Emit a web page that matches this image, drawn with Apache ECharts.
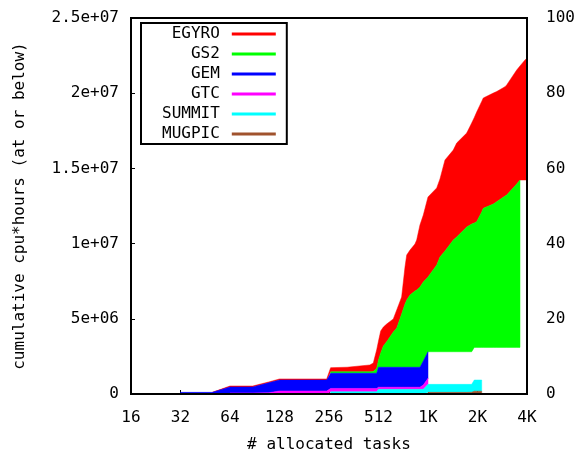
<!DOCTYPE html>
<html>
<head>
<meta charset="utf-8">
<script src="https://cdn.jsdelivr.net/npm/echarts@6/dist/echarts.min.js"></script>
<style>
html,body{margin:0;padding:0;background:#fff;}
#chart{width:581px;height:453px;}
</style>
</head>
<body>
<div id="chart"></div>
<script>
const _ = null;
// # allocated tasks (shared grid)
const tasks = [32, 50, 64, 88, 110, 128, 248, 262, 330, 454,
  476, 499, 512, 528, 548, 574, 630, 661, 708, 742,
  760, 796, 853, 874, 915, 959, 1024, 1157, 1211, 1299,
  1459, 1531, 1761, 1888, 1958, 2025, 2172, 2221, 2556, 2680,
  3011, 3083, 3546, 3713, 3984, 4096];

// cumulative cpu*hours (at or below), stacked curve of each code
const mugpic = [_,_,_,_,_,_,_,_,_,_,
  _,_,_,_,_,_,_,_,_,_,
  _,_,_,_,_,_,110000,110000,110000,110000,
  110000,110000,110000,120000,190000,190000,190000,_,_,_,
  _,_,_,_,_,_];
const summit = [_,_,_,_,_,_,_,150000,150000,150000,
  150000,150000,310000,310000,310000,310000,310000,310000,310000,310000,
  310000,310000,310000,310000,310000,310000,640000,640000,640000,640000,
  640000,640000,640000,640000,930000,930000,930000,_,_,_,
  _,_,_,_,_,_];
const gtc = [_,_,70000,70000,80000,200000,200000,370000,370000,370000,
  370000,370000,450000,450000,450000,450000,450000,450000,450000,450000,
  450000,450000,450000,450000,450000,600000,1040000,_,_,_,
  _,_,_,_,_,_,_,_,_,_,
  _,_,_,_,_,_];
const gem = [110000,110000,470000,470000,740000,930000,930000,1380000,1380000,1380000,
  1380000,1380000,1780000,1780000,1780000,1780000,1780000,1780000,1780000,1780000,
  1780000,1780000,1780000,1780000,1780000,2190000,2810000,_,_,_,
  _,_,_,_,_,_,_,_,_,_,
  _,_,_,_,_,_];
const gs2 = [_,_,_,_,_,_,_,1480000,1480000,1480000,
  1500000,1700000,2260000,2730000,3190000,3480000,4120000,4390000,5320000,5980000,
  6250000,6580000,6850000,6910000,7110000,7450000,7780000,8580000,9110000,9510000,
  10240000,10440000,11100000,11300000,11370000,11460000,12100000,12350000,12630000,12790000,
  13160000,13230000,13960000,14230000,_,_];
const egyro = [_,110000,530000,530000,800000,1000000,1000000,1750000,1780000,1930000,
  2060000,2930000,3520000,4190000,4450000,4650000,4990000,5590000,6450000,8440000,
  9240000,9570000,9970000,10240000,11240000,11900000,13100000,13700000,14300000,15560000,
  16220000,16690000,17350000,18020000,18380000,18750000,19450000,19680000,20010000,20110000,
  20430000,20550000,21540000,21810000,22210000,22340000];

const codeNames = ['EGYRO', 'GS2', 'GEM', 'GTC', 'SUMMIT', 'MUGPIC'];
const codeColors = ['#ff0000', '#00ff00', '#0000ff', '#ff00ff', '#00ffff', '#a0522d'];

const xTickValues = [16, 32, 64, 128, 256, 512, 1024, 2048, 4096];
const xTickLabels = ['16', '32', '64', '128', '256', '512', '1K', '2K', '4K'];
const yTickLabels = ['0', '5e+06', '1e+07', '1.5e+07', '2e+07', '2.5e+07'];
const y2TickLabels = ['0', '20', '40', '60', '80', '100'];

// stacking: bottom -> top
const bottomUp = [mugpic, summit, gtc, gem, gs2, egyro];
const n = tasks.length;
let below = new Array(n).fill(0);
const layers = [];
for (const top of bottomUp) {
  const first = top.findIndex(v => v != null);
  let last = n - 1;
  while (top[last] == null) last--;
  const own = new Array(n);
  let lastOwn = 0;
  for (let i = 0; i < n; i++) {
    if (top[i] != null) { own[i] = top[i] - below[i]; lastOwn = own[i]; }
    else own[i] = i < first ? 0 : lastOwn;
  }
  const rows = [];
  for (let i = first; i <= last; i++) rows.push([tasks[i], top[i], below[i]]);
  layers.push(rows);
  below = below.map((b, i) => b + own[i]);
}
const topDown = layers.slice().reverse();

const FONT = "'DejaVu Sans Mono', monospace";

const series = codeNames.map((name, k) => {
  const rows = topDown[k];
  const color = codeColors[k];
  return {
    type: 'custom',
    name: name,
    data: rows,
    encode: { x: 0, y: [1, 2] },
    itemStyle: { color: color },
    clip: true,
    renderItem: function (params, api) {
      if (params.dataIndex !== 0) return null;
      const pts = [];
      for (let i = 0; i < rows.length; i++) pts.push(api.coord([rows[i][0], rows[i][1]]));
      for (let i = rows.length - 1; i >= 0; i--) pts.push(api.coord([rows[i][0], rows[i][2]]));
      return { type: 'polygon', shape: { points: pts }, style: { fill: color, stroke: color, lineWidth: 0.5 } };
    }
  };
});

const chart = echarts.init(document.getElementById('chart'), null, { renderer: 'canvas' });
chart.setOption({
  animation: false,
  backgroundColor: '#fff',
  textStyle: { fontFamily: FONT, color: '#000' },
  grid: { left: 131, right: 54, top: 18, bottom: 59, show: true, z: 10,
    outerBoundsMode: 'none', containLabel: false,
    borderColor: '#000', borderWidth: 2, backgroundColor: 'transparent' },
  legend: {
    orient: 'vertical', left: 141, top: 23, align: 'right',
    itemWidth: 44, itemHeight: 3, itemGap: 0,
    backgroundColor: '#fff', borderColor: '#000', borderWidth: 2,
    padding: [1, 11, 0, 21], z: 20,
    textStyle: { fontFamily: FONT, fontSize: 16, color: '#000', lineHeight: 20, padding: [0, 7, 0, 0] },
    data: codeNames.map(nm => ({ name: nm, icon: 'rect' })),
    selectedMode: false
  },
  xAxis: [{
    type: 'log', logBase: 2, min: 16, max: 4096,
    name: '# allocated tasks', nameLocation: 'middle', nameGap: 43,
    nameTextStyle: { fontFamily: FONT, fontSize: 16, color: '#000' },
    axisLine: { show: false },
    axisTick: { show: true, inside: true, length: 4, lineStyle: { color: '#000', width: 1 }, customValues: xTickValues },
    axisLabel: { show: true, margin: 16, fontFamily: FONT, fontSize: 16, color: '#000', customValues: xTickValues,
      formatter: v => { const i = xTickValues.indexOf(Math.round(v)); return i >= 0 ? xTickLabels[i] : ''; } },
    splitLine: { show: false }
  }],
  yAxis: [{
    type: 'value', min: 0, max: 25000000, interval: 5000000, position: 'left',
    name: 'cumulative cpu*hours (at or below)', nameLocation: 'middle', nameRotate: 90, nameGap: 103,
    nameTextStyle: { fontFamily: FONT, fontSize: 16, color: '#000' },
    axisLine: { show: false },
    axisTick: { show: true, inside: true, length: 4, lineStyle: { color: '#000', width: 1 } },
    axisLabel: { margin: 12, fontFamily: FONT, fontSize: 16, color: '#000', padding: [5, 0, 0, 0],
      formatter: v => yTickLabels[Math.round(v / 5000000)] },
    splitLine: { show: false }
  }, {
    type: 'value', min: 0, max: 100, interval: 20, position: 'right',
    axisLine: { show: false }, axisTick: { show: false },
    axisLabel: { margin: 19, fontFamily: FONT, fontSize: 16, color: '#000', padding: [5, 0, 0, 0],
      formatter: v => y2TickLabels[Math.round(v / 20)] },
    splitLine: { show: false }
  }],
  series: series
});
</script>
</body>
</html>
